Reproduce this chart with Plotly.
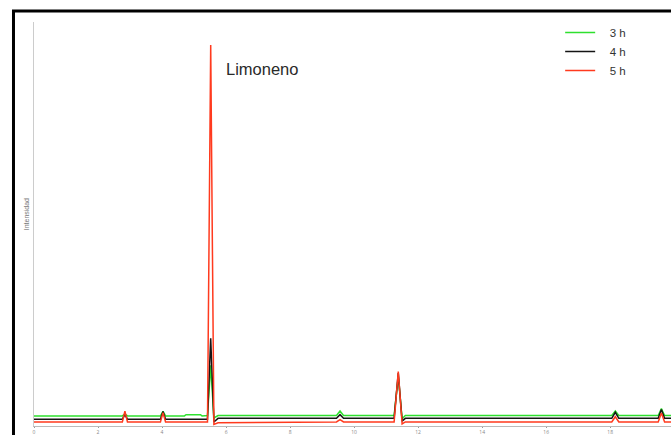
import plotly.graph_objects as go

# Retention time (min) and intensity (arbitrary units)
t_3h = [0, 2.76, 2.84, 2.92, 3.95, 4.03, 4.11, 4.70, 4.75, 5.20, 5.25, 5.42, 5.52, 5.62, 5.75,
        9.45, 9.56, 9.67, 11.25, 11.38, 11.50, 11.60, 18.05, 18.16, 18.27, 19.50, 19.60, 19.70, 19.90]
y_3h = [2.5, 2.5, 3.0, 2.5, 2.5, 3.6, 2.5, 2.5, 2.8, 2.8, 2.5, 2.6, 15.0, 2.0, 2.6,
        2.6, 3.7, 2.6, 2.6, 12.3, 1.8, 2.6, 2.6, 3.7, 2.6, 2.6, 4.3, 2.6, 2.6]

t_4h = [0, 2.76, 2.84, 2.92, 3.95, 4.03, 4.11, 5.42, 5.52, 5.62, 5.75,
        9.45, 9.56, 9.67, 11.25, 11.38, 11.50, 11.60, 18.05, 18.16, 18.27, 19.50, 19.60, 19.70, 19.90]
y_4h = [1.7, 1.7, 2.8, 1.7, 1.7, 3.6, 1.7, 1.7, 21.7, 1.0, 1.9,
        1.9, 2.8, 1.9, 1.9, 13.1, 1.2, 1.9, 1.9, 3.4, 1.9, 1.9, 4.1, 1.9, 1.9]

t_5h = [0, 2.76, 2.84, 2.92, 3.95, 4.03, 4.11, 5.42, 5.52, 5.62, 5.75, 8.00,
        9.45, 9.56, 9.67, 11.25, 11.38, 11.50, 11.60, 18.05, 18.16, 18.27, 19.50, 19.60, 19.70, 19.90]
y_5h = [1.0, 1.0, 3.7, 1.0, 1.0, 3.3, 1.0, 1.0, 94.3, 0.4, 0.8, 0.9,
        1.0, 1.6, 1.0, 1.0, 13.5, 0.5, 1.0, 1.0, 2.3, 1.0, 1.0, 3.2, 1.0, 1.0]

series_names = ["3 h", "4 h", "5 h"]
series_colors = ["#2ee02e", "#141414", "#ff3a1e"]
x_ticks = [0, 2, 4, 6, 8, 10, 12, 14, 16, 18]
peak_label = "Limoneno"
y_title = "Intensidad"

fig = go.Figure()
for t, y, name, col in zip([t_3h, t_4h, t_5h], [y_3h, y_4h, y_5h], series_names, series_colors):
    fig.add_trace(go.Scatter(x=t, y=y, mode="lines", name="\u00a0\u00a0\u00a0" + name,
                             line=dict(color=col, width=1.5)))

fig.add_annotation(x=5.95, y=88.3, xref="x", yref="y", text=peak_label, showarrow=False,
                   xanchor="left", yanchor="middle",
                   font=dict(family="Liberation Sans, Arial", size=16.5, color="#2a2a2a"))
fig.add_annotation(x=-0.019, y=0.525, xref="paper", yref="paper", text=y_title, showarrow=False,
                   textangle=-90, font=dict(family="Liberation Sans, Arial", size=7, color="#777"))

# photographed frame (left and top black border)
fig.add_shape(type="rect", xref="paper", yref="paper", x0=-0.0322, x1=1.2, y0=-0.2, y1=1.027,
              line=dict(color="black", width=3), fillcolor="rgba(0,0,0,0)", layer="above")

fig.update_layout(
    width=671, height=435,
    margin=dict(l=34, r=0, t=22, b=9),
    paper_bgcolor="white", plot_bgcolor="white",
    showlegend=True,
    legend=dict(x=0.826, y=1.01, xanchor="left", yanchor="top",
                font=dict(family="Liberation Sans, Arial", size=11.5, color="#333"),
                bgcolor="rgba(0,0,0,0)", tracegroupgap=0),
    xaxis=dict(range=[0, 19.9], tickvals=x_ticks, ticktext=[str(v) for v in x_ticks],
               showline=True, linecolor="#bbbbbb", linewidth=1, ticks="outside", ticklen=1,
               tickcolor="#999", tickfont=dict(size=5, color="#888"),
               showgrid=False, zeroline=False, automargin=False),
    yaxis=dict(range=[0, 100], showline=True, linecolor="#cccccc", linewidth=1,
               showticklabels=False, ticks="", showgrid=False, zeroline=False, automargin=False),
)

fig.write_html("out.html")
